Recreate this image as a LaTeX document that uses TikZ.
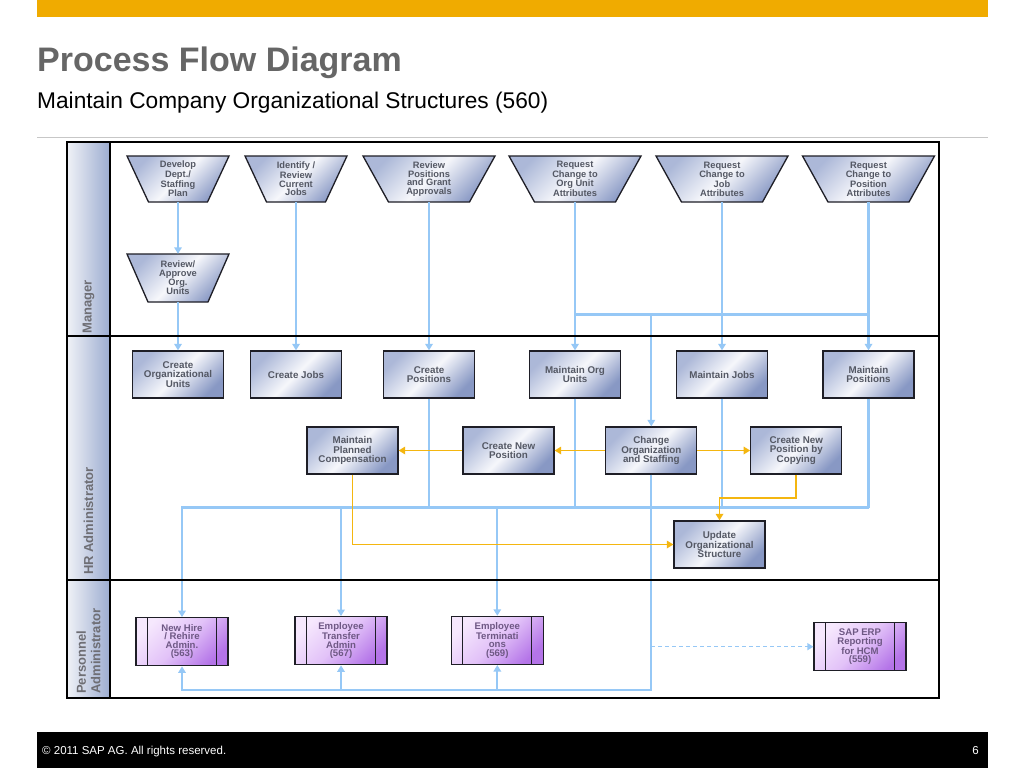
\documentclass[tikz,border=0pt]{standalone}
\usepackage{fontspec}
\setmainfont{Liberation Sans}
\usetikzlibrary{arrows.meta,calc}
\pgfdeclarelayer{bg}\pgfdeclarelayer{fg}\pgfsetlayers{bg,main,fg}
\definecolor{sapgold}{RGB}{240,171,0}
\definecolor{titlegray}{RGB}{102,102,102}
\definecolor{conblue}{RGB}{150,200,246}
\definecolor{conyel}{RGB}{244,182,16}
\definecolor{boxtl}{RGB}{172,184,216}
\definecolor{boxmid}{RGB}{246,247,251}
\definecolor{boxbr}{RGB}{136,152,196}
\definecolor{boxline}{RGB}{30,30,38}
\definecolor{boxtext}{RGB}{84,88,100}
\definecolor{purtl}{RGB}{246,232,253}
\definecolor{purmid}{RGB}{226,194,248}
\definecolor{purbr}{RGB}{180,116,232}
\definecolor{purtext}{RGB}{110,88,132}
\definecolor{lanel}{RGB}{240,242,247}
\definecolor{laner}{RGB}{156,172,208}
\definecolor{lanetext}{RGB}{110,110,116}
\tikzset{
  boxshade/.style={top color=boxtl, bottom color=boxbr, middle color=boxmid, shading angle=45},
  pbox/.style={rectangle, draw=boxline, line width=1.3pt, boxshade, minimum width=91pt, minimum height=47pt, inner sep=0pt, align=center, text=boxtext, font=\fontsize{9.8}{9.6}\selectfont\bfseries},
  traptext/.style={rectangle, inner sep=0pt, align=center, text=boxtext, font=\fontsize{9.3}{8.6}\selectfont\bfseries},
  trapshape/.style={draw=boxline, line width=1.3pt, boxshade},
  subp/.style={rectangle, draw=boxline, line width=1.3pt, top color=purtl, bottom color=purbr, middle color=purmid, shading angle=45, minimum width=92pt, minimum height=48pt, inner sep=0pt, align=center, text=purtext, font=\fontsize{9.6}{8.4}\selectfont\bfseries,
    path picture={\draw[boxline,line width=1.2pt] ([xshift=11.5pt]path picture bounding box.north west) -- ([xshift=11.5pt]path picture bounding box.south west);
      \draw[boxline,line width=1.2pt] ([xshift=-11.5pt]path picture bounding box.north east) -- ([xshift=-11.5pt]path picture bounding box.south east);}},
  bl/.style={draw=conblue, line width=2.2pt},
  blarrow/.style={bl, -{Triangle[width=7.5pt,length=6.5pt]}},
  yl/.style={draw=conyel, line width=1.7pt},
  ylarrow/.style={yl, -{Triangle[width=7.5pt,length=6.5pt]}},
  lanelabel/.style={rotate=90, anchor=west, inner sep=0pt, text=lanetext, font=\fontsize{13}{14.5}\selectfont\bfseries, align=left},
}
\newcommand\mytrap[7]{%
  \path[trapshape] ({#2-#4/2},{#3-#6/2}) -- ({#2+#4/2},{#3-#6/2}) -- ({#2+#5/2},{#3+#6/2}) -- ({#2-#5/2},{#3+#6/2}) -- cycle;
  \node[traptext, minimum width=#5pt, minimum height=#6pt] (#1) at (#2,#3) {#7};
}
\begin{document}
\begin{tikzpicture}[x=1pt,y=-1pt]
\useasboundingbox (0,0) rectangle (1024,768);
% header
\fill[sapgold] (37,0) rectangle (988,17);
\node[anchor=base west, inner sep=0pt, text=titlegray, font=\fontsize{34}{40}\selectfont\bfseries] (title) at (37,71) {Process Flow Diagram};
\node[anchor=base west, inner sep=0pt, text=black, font=\fontsize{22.7}{27}\selectfont] (subtitle) at (37,108) {Maintain Company Organizational Structures (560)};
\draw[line width=1pt, black!22] (37,137) -- (988,137);
% footer
\fill[black] (37,732) rectangle (988,768);
\node[anchor=base west, inner sep=0pt, text=white, font=\fontsize{11.5}{13}\selectfont] (copy) at (42,754) {© 2011 SAP AG. All rights reserved.};
\node[anchor=base east, inner sep=0pt, text=white, font=\fontsize{11.5}{13}\selectfont] (page) at (979,754) {6};
% lanes background
\begin{pgfonlayer}{bg}
\fill[white] (67,142) rectangle (939,698);
\path[left color=lanel, right color=laner] (67,142) rectangle (110,698);
\end{pgfonlayer}
\begin{pgfonlayer}{fg}
\draw[line width=2pt, black] (67,142) rectangle (939,698);
\draw[line width=2.5pt, black] (67,336) -- (939,336);
\draw[line width=2.5pt, black] (67,580) -- (939,580);
\draw[line width=1.5pt, black] (110,142) -- (110,698);
\end{pgfonlayer}
\node[lanelabel] (lmgr) at (88.5,334) {Manager};
\node[lanelabel] (lhr) at (88.5,575) {HR Administrator};
\node[lanelabel] (lpa) at (88.5,694) {Personnel\\Administrator};
% manager lane
\mytrap{dev}{178}{179}{102}{59}{46}{Develop\\Dept./\\Staffing\\Plan}
\mytrap{idr}{296}{179}{102}{59}{46}{Identify /\\Review\\Current\\Jobs}
\mytrap{rpa}{429}{179}{132}{81}{46}{Review\\Positions\\and Grant\\Approvals}
\mytrap{rcou}{575}{179}{132}{81}{46}{Request\\Change to\\Org Unit\\Attributes}
\mytrap{rcj}{722}{179}{132}{81}{46}{Request\\Change to\\Job\\Attributes}
\mytrap{rcp}{868.5}{179}{132}{81}{46}{Request\\Change to\\Position\\Attributes}
\mytrap{rao}{178}{278}{102}{60}{48}{Review/\\Approve\\Org.\\Units}
% HR lane
\node[pbox] (cou) at (178,374.5) {Create\\Organizational\\Units};
\node[pbox] (cj) at (296,374.5) {Create Jobs};
\node[pbox] (cp) at (429,374.5) {Create\\Positions};
\node[pbox] (mou) at (575,374.5) {Maintain Org\\Units};
\node[pbox] (mj) at (722,374.5) {Maintain Jobs};
\node[pbox] (mp) at (868.5,374.5) {Maintain\\Positions};
\node[pbox] (mpc) at (352.5,450.5) {Maintain\\Planned\\Compensation};
\node[pbox] (cnp) at (508.5,450.5) {Create New\\Position};
\node[pbox] (cos) at (651.3,450.5) {Change\\Organization\\and Staffing};
\node[pbox] (cnpc) at (796.3,450.5) {Create New\\Position by\\Copying};
\node[pbox] (uos) at (719.5,544.5) {Update\\Organizational\\Structure};
% personnel lane
\node[subp] (nh) at (182,641.7) {New Hire\\/ Rehire\\Admin.\\(563)};
\node[subp] (et) at (341,640.7) {Employee\\Transfer\\Admin\\(567)};
\node[subp] (eterm) at (497.3,640.4) {Employee\\Terminati\\ons\\(569)};
\node[subp] (sap) at (860,646.7) {SAP ERP\\Reporting\\for HCM\\(559)};
% blue connectors
\draw[blarrow] (dev.south) -- (rao.north);
\draw[blarrow] (rao.south) -- (cou.north);
\draw[blarrow] (idr.south) -- (cj.north);
\draw[blarrow] (rpa.south) -- (cp.north);
\draw[blarrow] (rcou.south) -- (mou.north);
\draw[blarrow] (rcj.south) -- (mj.north);
\draw[blarrow] (rcp.south) -- (mp.north);
\coordinate (jn) at (0,314.5);
\draw[bl] (rcou.south |- jn) -- (rcp.south |- jn);
\draw[blarrow] (cos.north |- jn) -- (cos.north);
\coordinate (bus) at (0,507.5);
\draw[blarrow] (mp.south |- bus) -- (nh.north |- bus) -- (nh.north);
\draw[bl] (cp.south) -- (cp.south |- bus);
\draw[bl] (mou.south) -- (mou.south |- bus);
\draw[bl] (mj.south) -- (mj.south |- bus);
\draw[bl] (mp.south) -- (mp.south |- bus);
\draw[blarrow] (et.north |- bus) -- (et.north);
\draw[blarrow] (eterm.north |- bus) -- (eterm.north);
\coordinate (bot) at (0,690);
\draw[blarrow] (cos.south) -- (cos.south |- bot) -- (nh.south |- bot) -- (nh.south);
\draw[blarrow] (et.south |- bot) -- (et.south);
\draw[blarrow] (eterm.south |- bot) -- (eterm.south);
\draw[draw=conblue, line width=1.5pt, dash pattern=on 4pt off 3pt, -{Triangle[width=7pt,length=6pt]}] (cos.south |- sap.west) -- (sap.west);
% yellow connectors
\draw[ylarrow] (cos.west) -- (cnp.east);
\draw[ylarrow] (cnp.west) -- (mpc.east);
\draw[ylarrow] (cos.east) -- (cnpc.west);
\draw[ylarrow] (cnpc.south) -- ++(0,23) -| (uos.north);
\draw[ylarrow] (mpc.south) |- (uos.west);
\end{tikzpicture}
\end{document}
